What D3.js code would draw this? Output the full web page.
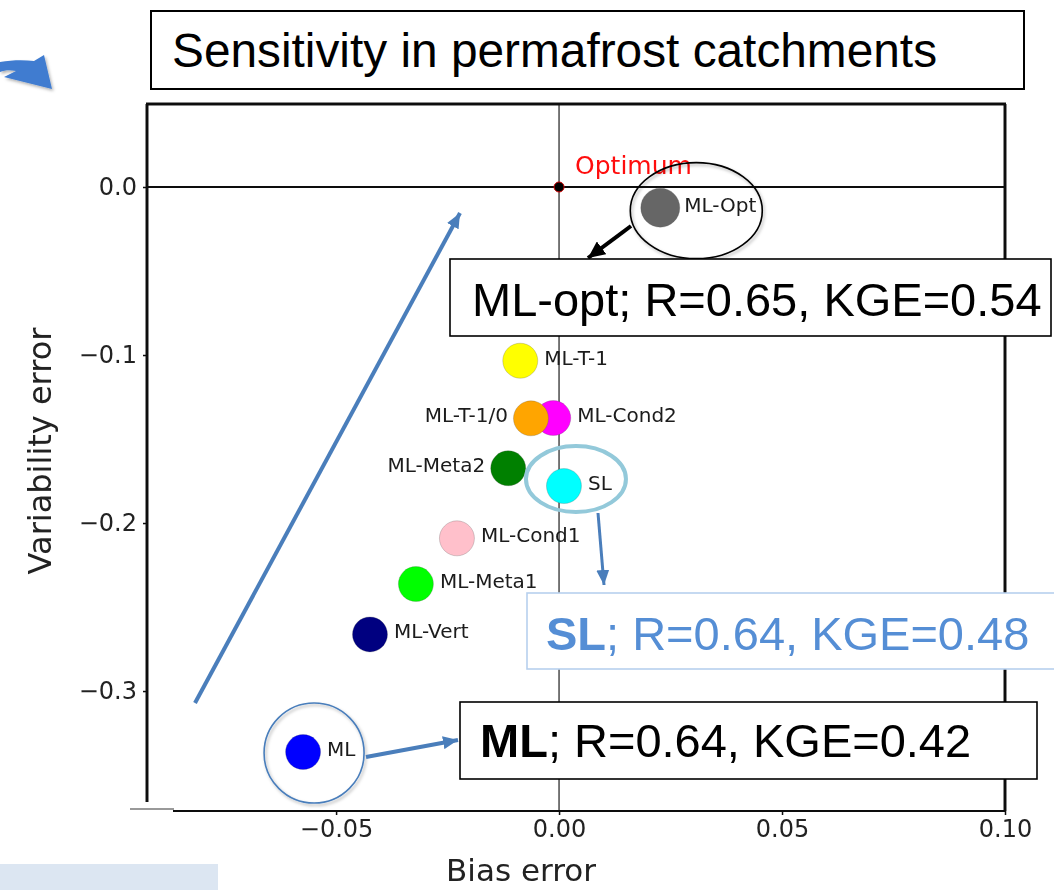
<!DOCTYPE html>
<html>
<head>
<meta charset="utf-8">
<script src="https://cdn.jsdelivr.net/npm/d3@7"></script>
<style>
  html, body { margin: 0; padding: 0; background: #fff; }
  svg { display: block; }
</style>
</head>
<body>
<svg id="chart" width="1054" height="890"></svg>
<script>
// Model runs: bias error (x) and variability error (y) of the KGE decomposition
const models   = ["ML-Opt", "ML-T-1", "ML-Cond2", "ML-T-1/0", "ML-Meta2", "SL", "ML-Cond1", "ML-Meta1", "ML-Vert", "ML"];
const biasErr  = [0.0227, -0.0087, -0.0013, -0.0063, -0.0114, 0.0011, -0.0229, -0.0321, -0.0424, -0.0574];
const varErr   = [-0.0123, -0.1034, -0.1375, -0.1377, -0.1674, -0.1780, -0.2091, -0.2363, -0.2663, -0.3363];
const pointColors = ["#666666", "#ffff00", "#ff00ff", "#ffa500", "#008000", "#00ffff", "#ffc0cb", "#00ff00", "#000080", "#0000ff"];
const labelLeft = ["ML-T-1/0", "ML-Meta2"];

const xTicks = [-0.05, 0.00, 0.05, 0.10];
const yTicks = [0.0, -0.1, -0.2, -0.3];

const optimum = { bias: 0, variability: 0, label: "Optimum" };

// Skill summaries shown in the call-out boxes
const summaries = [
  { key: "ML-opt", bold: false, R: "0.65", KGE: "0.54" },
  { key: "SL", bold: true, R: "0.64", KGE: "0.48" },
  { key: "ML", bold: true, R: "0.64", KGE: "0.42" }
];

const svg = d3.select("#chart");
const defs = svg.append("defs");

defs.append("filter").attr("id", "soft")
  .append("feGaussianBlur").attr("stdDeviation", 0.55);

const shadow = defs.append("filter").attr("id", "shadow")
  .attr("x", "-20%").attr("y", "-20%").attr("width", "150%").attr("height", "150%");
shadow.append("feDropShadow").attr("dx", 1.5).attr("dy", 2).attr("stdDeviation", 1.5)
  .attr("flood-color", "#000").attr("flood-opacity", 0.3);

function arrowMarker(id, color, w, h) {
  defs.append("marker").attr("id", id)
    .attr("markerUnits", "userSpaceOnUse")
    .attr("viewBox", `0 0 ${w} ${h}`)
    .attr("refX", w).attr("refY", h / 2)
    .attr("markerWidth", w).attr("markerHeight", h)
    .attr("orient", "auto")
    .append("path").attr("d", `M0,0 L${w},${h / 2} L0,${h} Z`).attr("fill", color);
}
const blue = "#4a7ebb";
arrowMarker("arrBlue", blue, 15, 13);
arrowMarker("arrBlack", "#000", 17, 16);

// Scales
const x = d3.scaleLinear().domain([-0.0924, 0.1]).range([147, 1005]);
const y = d3.scaleLinear().domain([0.0494, -0.3708]).range([104, 810]);

// ---------- plot panel ----------
const plot = svg.append("g").attr("filter", "url(#soft)");

// reference lines through the optimum
plot.append("line")
  .attr("x1", x.range()[0]).attr("x2", x.range()[1])
  .attr("y1", y(0)).attr("y2", y(0))
  .attr("stroke", "#111").attr("stroke-width", 2);
plot.append("line")
  .attr("x1", x(0)).attr("x2", x(0))
  .attr("y1", y.range()[0]).attr("y2", y.range()[1])
  .attr("stroke", "#555").attr("stroke-width", 1.6);

// spines
plot.append("line").attr("x1", 147).attr("x2", 147).attr("y1", 104).attr("y2", 802)
  .attr("stroke", "#111").attr("stroke-width", 3);
plot.append("line").attr("x1", 146).attr("x2", 1006).attr("y1", 104).attr("y2", 104)
  .attr("stroke", "#111").attr("stroke-width", 3);
plot.append("line").attr("x1", 1005).attr("x2", 1005).attr("y1", 104).attr("y2", 811)
  .attr("stroke", "#111").attr("stroke-width", 3);
plot.append("line").attr("x1", 173).attr("x2", 1006).attr("y1", 811).attr("y2", 811)
  .attr("stroke", "#111").attr("stroke-width", 2);
plot.append("line").attr("x1", 130).attr("x2", 174).attr("y1", 809).attr("y2", 809)
  .attr("stroke", "#777").attr("stroke-width", 1.5);

// axes
const xAxis = plot.append("g").attr("transform", `translate(0,811)`)
  .call(d3.axisBottom(x).tickValues(xTicks).tickFormat(d3.format(".2f")).tickSize(4).tickPadding(5));
const yAxis = plot.append("g").attr("transform", `translate(147,0)`)
  .call(d3.axisLeft(y).tickValues(yTicks).tickFormat(d3.format(".1f")).tickSize(4).tickPadding(6));
[xAxis, yAxis].forEach(a => {
  a.select(".domain").remove();
  a.selectAll("line").attr("stroke", "#111").attr("stroke-width", 1.5);
  a.selectAll("text").attr("font-family", "DejaVu Sans").attr("font-size", 24).attr("fill", "#222");
});

plot.append("text")
  .attr("x", 521).attr("y", 881)
  .attr("text-anchor", "middle")
  .attr("font-family", "DejaVu Sans").attr("font-size", 31).attr("fill", "#222")
  .text("Bias error");
plot.append("text")
  .attr("transform", "translate(51,451) rotate(-90)")
  .attr("text-anchor", "middle")
  .attr("font-family", "DejaVu Sans").attr("font-size", 32).attr("fill", "#222")
  .text("Variability error");

// point labels
const pts = models.map((m, i) => ({ name: m, bias: biasErr[i], variability: varErr[i], color: pointColors[i] }));
plot.append("g").selectAll("text").data(pts).join("text")
  .attr("x", d => labelLeft.includes(d.name) ? x(d.bias) - 23 : x(d.bias) + 24)
  .attr("y", d => y(d.variability) + 4)
  .attr("text-anchor", d => labelLeft.includes(d.name) ? "end" : "start")
  .attr("font-family", "DejaVu Sans").attr("font-size", 20).attr("fill", "#1a1a1a")
  .text(d => d.name);

// points
plot.append("g").selectAll("circle").data(pts).join("circle")
  .attr("cx", d => x(d.bias)).attr("cy", d => y(d.variability))
  .attr("r", d => d.name === "ML-Opt" ? 19.5 : 17.5)
  .attr("fill", d => d.color)
  .attr("stroke", "#555").attr("stroke-opacity", 0.25).attr("stroke-width", 1);

// optimum marker
plot.append("circle").attr("cx", x(optimum.bias)).attr("cy", y(optimum.variability)).attr("r", 5)
  .attr("fill", "#000").attr("stroke", "#c00").attr("stroke-width", 1);
plot.append("text")
  .attr("x", x(optimum.bias) + 16).attr("y", y(optimum.variability) - 13)
  .attr("font-family", "DejaVu Sans").attr("font-size", 25).attr("fill", "#ff1010")
  .text(optimum.label);

// ---------- annotations ----------
const ann = svg.append("g");

// curved arrow at the top-left corner
ann.append("path")
  .attr("d", "M0,62 C12,60 24,60 34,61 L44,55 L52,89 L4,77 L16,71 C10,70 5,70 0,72 Z")
  .attr("fill", "#3f7cd0").attr("filter", "url(#shadow)");

// pale panel at the bottom-left corner
ann.append("rect").attr("x", 0).attr("y", 864).attr("width", 218).attr("height", 26).attr("fill", "#dce6f2");

// title box
ann.append("rect").attr("x", 151).attr("y", 11).attr("width", 873).attr("height", 78)
  .attr("fill", "#fff").attr("stroke", "#000").attr("stroke-width", 2);
ann.append("text").attr("x", 172).attr("y", 67)
  .attr("font-family", "Liberation Sans, Arial").attr("font-size", 47.8).attr("fill", "#000")
  .text("Sensitivity in permafrost catchments");

// long trend arrow from ML towards the optimum
ann.append("line").attr("x1", 195).attr("y1", 703).attr("x2", 460).attr("y2", 213)
  .attr("stroke", blue).attr("stroke-width", 4).attr("marker-end", "url(#arrBlue)");

const pOpt = pts.find(d => d.name === "ML-Opt");
const pSL = pts.find(d => d.name === "SL");
const pML = pts.find(d => d.name === "ML");

// highlight rings
ann.append("ellipse").attr("cx", x(pOpt.bias) + 36).attr("cy", y(pOpt.variability) + 3)
  .attr("rx", 66).attr("ry", 48)
  .attr("fill", "none").attr("stroke", "#000").attr("stroke-width", 1.6).attr("filter", "url(#shadow)");
ann.append("ellipse").attr("cx", x(pSL.bias) + 12).attr("cy", y(pSL.variability) - 7)
  .attr("rx", 50).attr("ry", 33)
  .attr("fill", "none").attr("stroke", "#93c9da").attr("stroke-width", 4);
ann.append("circle").attr("cx", x(pML.bias) + 11).attr("cy", y(pML.variability) + 1)
  .attr("r", 50)
  .attr("fill", "none").attr("stroke", blue).attr("stroke-width", 1.6).attr("filter", "url(#shadow)");

// connector arrows
ann.append("line").attr("x1", 631).attr("y1", 226).attr("x2", 588).attr("y2", 258)
  .attr("stroke", "#000").attr("stroke-width", 4).attr("marker-end", "url(#arrBlack)");
ann.append("line").attr("x1", 598).attr("y1", 513).attr("x2", 604).attr("y2", 585)
  .attr("stroke", blue).attr("stroke-width", 3).attr("marker-end", "url(#arrBlue)");
ann.append("line").attr("x1", 366).attr("y1", 757).attr("x2", 458).attr("y2", 740)
  .attr("stroke", blue).attr("stroke-width", 4).attr("marker-end", "url(#arrBlue)");

// summary boxes
function summaryBox(s, bx, by, bw, bh, stroke, color, tx, ty) {
  ann.append("rect").attr("x", bx).attr("y", by).attr("width", bw).attr("height", bh)
    .attr("fill", "#fff").attr("stroke", stroke).attr("stroke-width", 1.6);
  const t = ann.append("text").attr("x", tx).attr("y", ty)
    .attr("font-family", "Liberation Sans, Arial").attr("font-size", 47).attr("fill", color);
  t.append("tspan").attr("font-weight", s.bold ? "bold" : "normal").text(s.key);
  t.append("tspan").text(`; R=${s.R}, KGE=${s.KGE}`);
}
summaryBox(summaries[0], 450, 259, 601, 77, "#000", "#000", 472, 316);
summaryBox(summaries[1], 527, 593, 540, 76, "#b7d0ee", "#558ed5", 546, 650);
summaryBox(summaries[2], 460, 702, 577, 77, "#000", "#000", 480, 757);
</script>
</body>
</html>
